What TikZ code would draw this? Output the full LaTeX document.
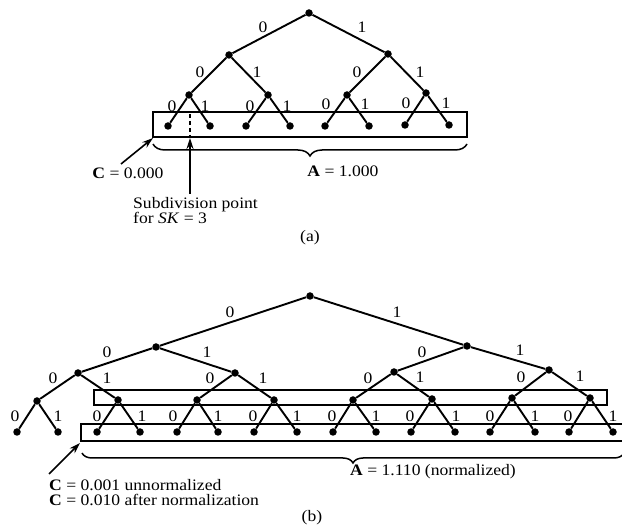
\documentclass[tikz,border=0pt]{standalone}
\usepackage{fontspec}
\setmainfont{Liberation Serif}[FakeStretch=1.1]
\usetikzlibrary{arrows.meta,decorations.pathreplacing}

\begin{document}
\begin{tikzpicture}[x=1pt,y=-1pt,
  font=\fontsize{16}{15}\selectfont,
  dot/.style={circle,fill=black,inner sep=0pt,minimum size=7.5pt},
  edge/.style={line width=1.9pt},
  frame/.style={line width=2.1pt},
  lbl/.style={inner sep=0pt},
  txt/.style={inner sep=0pt},
  pointer/.style={line width=1.6pt,-{Stealth[length=11pt,width=7pt]}},
  curly/.style={line width=1.5pt,decorate,decoration={brace,mirror,amplitude=#1}},
]
\useasboundingbox (0,0) rectangle (622,529);

% ---------------- (a): three-level binary tree ----------------
\foreach \n/\x/\y in {a/309/13, a0/229/55, a1/388/54,
    a00/189/95, a01/268/95, a10/347/95, a11/426/93,
    a000/168/126, a001/210/126, a010/246/126, a011/290/126,
    a100/325/126, a101/369/126, a110/405/125, a111/449/125}
  \node[dot] (\n) at (\x,\y) {};
\foreach \p/\c in {a/a0, a/a1, a0/a00, a0/a01, a1/a10, a1/a11,
    a00/a000, a00/a001, a01/a010, a01/a011,
    a10/a100, a10/a101, a11/a110, a11/a111}
  \draw[edge] (\p) -- (\c);
\foreach \n/\x/\y/\t in {la/263/27/0, lb/362/27/1,
    lc/200/72/0, ld/257/72/1, le/357/72/0, lf/420/72/1,
    lg/172/106/0, lh/205/106/1, li/250/106/0, lj/287/106/1,
    lk/326/104/0, ll/365/104/1, lm/406/103/0, ln/446/103/1}
  \node[lbl] (\n) at (\x,\y) {\t};

% leaf interval and its subdivision
\draw[frame] (153,112) rectangle (467,137);
\coordinate (boxaSW) at (153,138);
\coordinate (subTop) at (190,114);
\coordinate (subBot) at (190,137);
\draw[line width=1.6pt,dash pattern=on 4pt off 3pt] (subTop) -- (subBot);

\coordinate (braL) at (153,144);
\coordinate (braR) at (467,144);
\draw[curly=12pt] (braL) -- (braR);
\node[txt] (Aa) at (343,171) {\textbf{A} = 1.000};

\node[txt] (Ca) at (128,173) {\textbf{C} = 0.000};
\coordinate (CaTail) at (121,164);
\draw[pointer] (CaTail) -- (boxaSW);

\node[txt,align=left,anchor=west] (sub) at (133,211) {Subdivision point\\for \textit{SK} = 3};
\coordinate (subTail) at (190,194);
\coordinate (subTip) at (190,138);
\draw[pointer] (subTail) -- (subTip);

\node[txt] (capA) at (310,238) {(a)};

% ---------------- (b): four-level binary tree ----------------
\foreach \n/\x/\y in {b/310/296, b0/156/347, b1/467/346,
    b00/78/373, b01/235/373, b10/394/372, b11/549/370,
    b000/37/401, b001/118/400, b010/197/400, b011/274/400,
    b100/353/400, b101/432/399, b110/512/398, b111/590/398}
  \node[dot] (\n) at (\x,\y) {};
\foreach \n/\x in {b0000/17, b0001/58, b0010/97, b0011/140,
    b0100/177, b0101/218, b0110/254, b0111/297,
    b1000/333, b1001/376, b1010/411, b1011/455,
    b1100/490, b1101/535, b1110/569, b1111/613}
  \node[dot] (\n) at (\x,432) {};
\foreach \p in {b, b0, b1, b00, b01, b10, b11, b000, b001, b010, b011,
    b100, b101, b110, b111}
  \draw[edge] (\p) -- (\p0) (\p) -- (\p1);

\foreach \n/\x/\y/\t in {ma/230/312/0, mb/397/312/1,
    mc/107/352/0, md/207/352/1, me/422/352/0, mf/520/350/1,
    mg/53/378/0, mh/107/378/1, mi/210/378/0, mj/263/378/1,
    mk/368/378/0, ml/420/377/1, mm/521/377/0, mn/580/376/1}
  \node[lbl] (\n) at (\x,\y) {\t};
\foreach \x [count=\i] in {15,97,173,253,332,410,490,568}
  \node[lbl] (z\i) at (\x,416) {0};
\foreach \x [count=\i] in {58,142,218,297,376,456,535,613}
  \node[lbl] (o\i) at (\x,416) {1};

% the two intervals
\draw[frame] (94,390) rectangle (607,405);
\coordinate (lowTR) at (622,424);
\coordinate (lowBR) at (622,441);
\coordinate (lowSW) at (81,441);
\draw[frame] (lowTR) -| (lowSW) -- (lowBR);

\coordinate (brbL) at (82,453);
\coordinate (brbR) at (624,453);
\draw[curly=10pt] (brbL) -- (brbR);
\node[txt] (Ab) at (433,472) {\textbf{A} = 1.110 (normalized)};

\node[txt,align=left,anchor=west] (Cb) at (49,493)
  {\textbf{C} = 0.001 unnormalized\\\textbf{C} = 0.010 after normalization};
\coordinate (CbTail) at (49,474);
\coordinate (CbTip) at (80,443);
\draw[pointer] (CbTail) -- (CbTip);

\node[txt] (capB) at (312,518) {(b)};
\end{tikzpicture}
\end{document}
